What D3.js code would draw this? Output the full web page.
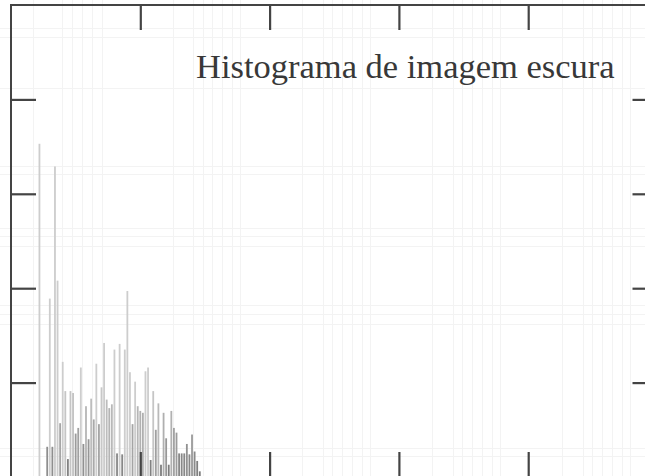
<!DOCTYPE html>
<html>
<head>
<meta charset="utf-8">
<script src="https://cdn.jsdelivr.net/npm/d3@7/dist/d3.min.js"></script>
<style>
  html, body { margin: 0; padding: 0; background: #fff; overflow: hidden; }
  svg { display: block; }
</style>
</head>
<body>
<svg id="chart" width="645" height="476"></svg>
<script>
// Gray levels present in the dark image and their pixel counts
const levels = d3.range(11, 74);
const counts = [
  3530, 0, 0, 320, 1890, 320, 3290, 2080, 570, 1220,
  910, 190, 910, 890, 460, 520, 1160, 350, 750, 400,
  830, 610, 1200, 560, 950, 1420, 820, 730, 770, 1350,
  250, 1410, 240, 1350, 1970, 1110, 560, 1010, 750, 700,
  680, 1120, 1160, 180, 910, 500, 780, 130, 680, 410,
  130, 700, 520, 470, 250, 250, 250, 350, 240, 450,
  270, 170, 60
];

// Axis ticks (unlabelled)
const xTicks = [50, 100, 150, 200];
const yTicks = [1000, 2000, 3000, 4000];

// Faint background grid of the printed page
const paperGridX = [8.5, 19.7, 23.6, 27.5, 31.3, 35.2, 62.6, 70.4, 74.2, 77.7, 81.6, 85.5, 88.6,
  112.5, 120.6, 124.1, 128, 131.9, 135.7, 138.8, 162.8, 170.9, 174.4, 178.3, 182.2, 186, 189.1,
  213.1, 221.2, 224.7, 228.6, 232.5, 236.4, 239.4];
const paperGridY = [4757, 4661, 4119, 3290, 3205, 2641, 2556, 2450, 1823, 1727, 1621, 303, 218];

const title = "Histograma de imagem escura";

const svg = d3.select("#chart");
const plotL = 11, plotT = 5, plotR = 657.5, plotB = 477;

const x = d3.scaleLinear().domain([0, 250]).range([plotL, plotR]);
const y = d3.scaleLinear().domain([0, 5000]).range([plotB, plotT]);

// paper grid
const grid = svg.append("g").attr("stroke", "#f3f3f3").attr("stroke-width", 1);
grid.selectAll("line.gx").data(paperGridX).join("line")
  .attr("class", "gx")
  .attr("x1", d => Math.round(x(d)) + 0.5).attr("x2", d => Math.round(x(d)) + 0.5)
  .attr("y1", 0).attr("y2", 476);
grid.selectAll("line.gy").data(paperGridY).join("line")
  .attr("class", "gy")
  .attr("y1", d => Math.round(y(d)) + 0.5).attr("y2", d => Math.round(y(d)) + 0.5)
  .attr("x1", 0).attr("x2", 645);

// histogram lines, shorter bars print darker
const shade = d3.scaleLinear().domain([100, 1000]).range(["#7a7a7a", "#cdcdcd"]).clamp(true);
const data = levels.map((l, i) => ({ level: l, count: counts[i] })).filter(d => d.count > 0);
svg.append("g").selectAll("rect").data(data).join("rect")
  .attr("x", d => x(d.level) - 0.9)
  .attr("width", 1.8)
  .attr("y", d => y(d.count))
  .attr("height", d => y(0) - y(d.count))
  .attr("fill", d => shade(d.count));

// frame with inward ticks on all four sides
const axisColor = "#444";
const tickLen = 25;
const fr = svg.append("g").attr("stroke", axisColor).attr("stroke-width", 2).attr("fill", "none");
fr.append("rect")
  .attr("x", plotL).attr("y", plotT)
  .attr("width", plotR - plotL).attr("height", plotB - plotT);

const axTop = d3.axisBottom(x).tickValues(xTicks).tickSize(tickLen).tickFormat("");
const axBottom = d3.axisTop(x).tickValues(xTicks).tickSize(tickLen).tickFormat("");
const axLeft = d3.axisRight(y).tickValues(yTicks).tickSize(tickLen).tickFormat("");
const axRight = d3.axisLeft(y).tickValues(yTicks).tickSize(tickLen).tickFormat("");

function styleAxis(g) {
  g.select(".domain").remove();
  g.selectAll(".tick line").attr("stroke", axisColor).attr("stroke-width", 2.2);
}
svg.append("g").attr("transform", `translate(0,${plotT})`).call(axTop).call(styleAxis);
svg.append("g").attr("transform", `translate(0,${plotB})`).call(axBottom).call(styleAxis);
svg.append("g").attr("transform", `translate(${plotL},0)`).call(axLeft).call(styleAxis);
svg.append("g").attr("transform", `translate(${plotR},0)`).call(axRight).call(styleAxis);

// title
svg.append("text")
  .attr("x", 196).attr("y", 78)
  .attr("font-family", "'Liberation Serif', 'Times New Roman', serif")
  .attr("font-size", 34.5)
  .attr("fill", "#383838")
  .text(title);
</script>
</body>
</html>
